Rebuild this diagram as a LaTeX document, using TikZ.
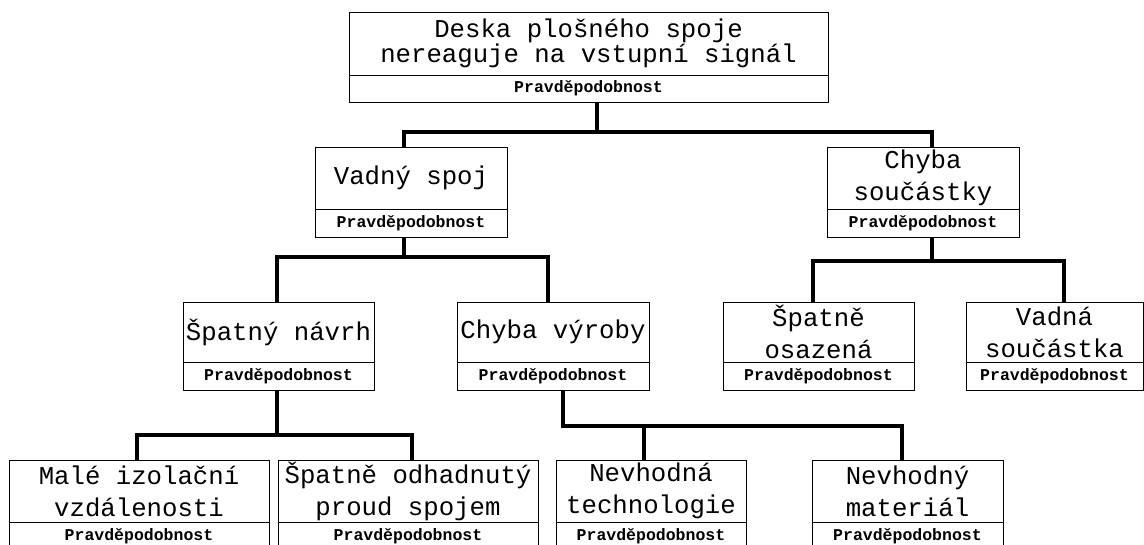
\documentclass[tikz,border=0pt]{standalone}
\usepackage{fontspec}
\usetikzlibrary{positioning}
\newfontfamily\stromfont{Liberation Mono}
\tikzset{
  uzel/.style={draw, line width=1pt, inner sep=0pt, outer sep=0pt, align=center, minimum height=62,
    font=\stromfont\fontsize{25.7}{32}\selectfont},
  pst/.style={draw, line width=1pt, inner sep=0pt, outer sep=0pt, minimum height=28,
    font=\stromfont\bfseries\fontsize{16.5}{18}\selectfont},
  spoj/.style={line width=3.2pt}
}
\begin{document}
\begin{tikzpicture}[x=1pt, y=-1pt]
			\useasboundingbox (0,0) rectangle (1144,544);
			\clip (0,0) rectangle (1144,544);
			\node[uzel, minimum width=479, minimum height=63, font=\stromfont\fontsize{25.7}{25}\selectfont] (deska) at (588.5,43.5) {Deska plošného spoje\\nereaguje na vstupní signál};
			\node[pst, minimum width=479, minimum height=27, below=0pt of deska] (deska-p) {Pravděpodobnost};
			\node[uzel, minimum width=192] (vadny) at (411,178) {Vadný spoj};
			\node[pst, minimum width=192, below=0pt of vadny] (vadny-p) {Pravděpodobnost};
			\node[uzel, minimum width=192] (soucastka) at (923,178) {Chyba\\součástky};
			\node[pst, minimum width=192, below=0pt of soucastka] (soucastka-p) {Pravděpodobnost};
			\node[uzel, minimum width=191, minimum height=60] (navrh) at (278.5,332) {Špatný návrh};
			\node[pst, minimum width=191, below=0pt of navrh] (navrh-p) {Pravděpodobnost};
			\node[uzel, minimum width=192, minimum height=60] (vyroba) at (553,332) {Chyba výroby};
			\node[pst, minimum width=192, below=0pt of vyroba] (vyroba-p) {Pravděpodobnost};
			\node[uzel, minimum width=191, minimum height=60] (osazena) at (818.5,332) {Špatně\\osazená};
			\node[pst, minimum width=191, below=0pt of osazena] (osazena-p) {Pravděpodobnost};
			\node[uzel, minimum width=177, minimum height=60] (vadna) at (1054.5,332) {Vadná\\součástka};
			\node[pst, minimum width=177, below=0pt of vadna] (vadna-p) {Pravděpodobnost};
			\node[uzel, minimum width=260] (izolace) at (139,491) {Malé izolační\\vzdálenosti};
			\node[pst, minimum width=260, below=0pt of izolace] (izolace-p) {Pravděpodobnost};
			\node[uzel, minimum width=260] (proud) at (408,491) {Špatně odhadnutý\\proud spojem};
			\node[pst, minimum width=260, below=0pt of proud] (proud-p) {Pravděpodobnost};
			\node[uzel, minimum width=190] (technologie) at (651,491) {Nevhodná\\technologie};
			\node[pst, minimum width=190, below=0pt of technologie] (technologie-p) {Pravděpodobnost};
			\node[uzel, minimum width=191] (material) at (907.5,491) {Nevhodný\\materiál};
			\node[pst, minimum width=191, below=0pt of material] (material-p) {Pravděpodobnost};
			\draw[spoj] ([xshift=8.5]deska-p.south) -- ++(0,30) -| ([xshift=-7]vadny.north);
			\draw[spoj] ([xshift=8.5]deska-p.south) -- ++(0,30) -| ([xshift=9]soucastka.north);
			\draw[spoj] ([xshift=-7]vadny-p.south) -- ++(0,20) -| ([xshift=-1.5]navrh.north);
			\draw[spoj] ([xshift=-7]vadny-p.south) -- ++(0,20) -| ([xshift=-5]vyroba.north);
			\draw[spoj] ([xshift=9]soucastka-p.south) -- ++(0,24) -| ([xshift=-5.5]osazena.north);
			\draw[spoj] ([xshift=9]soucastka-p.south) -- ++(0,24) -| ([xshift=9.5]vadna.north);
			\draw[spoj] ([xshift=-1.5]navrh-p.south) -- ++(0,45) -| ([xshift=-2]izolace.north);
			\draw[spoj] ([xshift=-1.5]navrh-p.south) -- ++(0,45) -| ([xshift=4]proud.north);
			\draw[spoj] ([xshift=10]vyroba-p.south) -- ++(0,36) -| ([xshift=-7]technologie.north);
			\draw[spoj] ([xshift=10]vyroba-p.south) -- ++(0,36) -| ([xshift=-5.5]material.north);
		\end{tikzpicture}
\end{document}
